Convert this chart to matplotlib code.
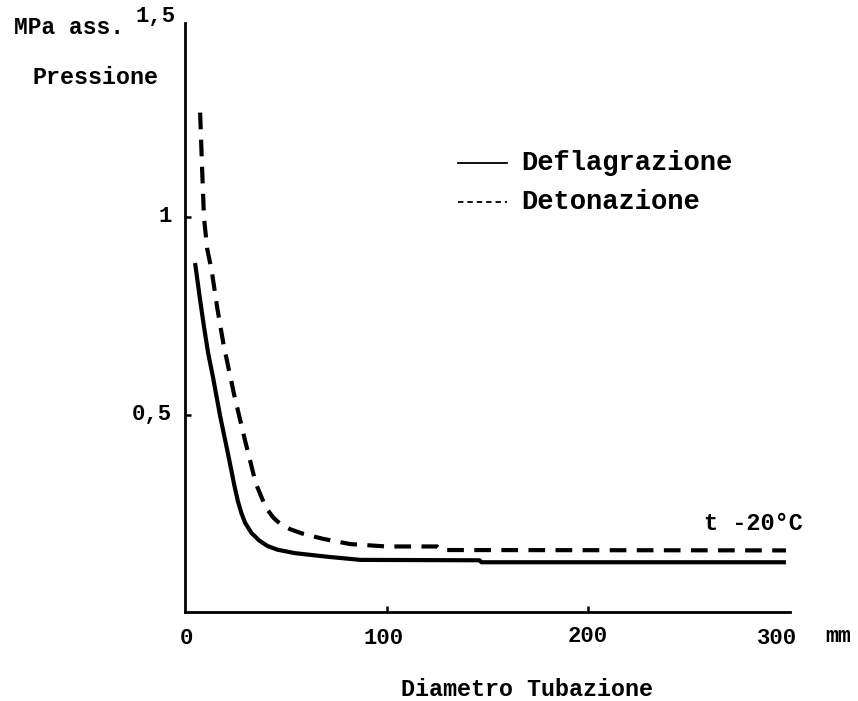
import numpy as np
import matplotlib
matplotlib.use("Agg")
import matplotlib.pyplot as plt

# Curves (diameter in mm, pressure in MPa abs.)
defl_x = [5.0, 7.5, 9.4, 11.5, 13.8, 17.4, 21.8, 24.5, 26.2, 28.0, 29.8, 33.0, 36.8, 41.0,
          45.7, 54.6, 70.5, 87, 146, 147, 298]
defl_y = [0.884, 0.79, 0.723, 0.655, 0.597, 0.497, 0.389, 0.32, 0.281, 0.25, 0.226, 0.2,
          0.181, 0.167, 0.158, 0.149, 0.140, 0.132, 0.131, 0.126, 0.126]

deto_x = [7.5, 8.5, 9.4, 11.0, 13.2, 16.0, 19.1, 24.3, 29.8, 35.1, 38.0, 40.4, 44.0, 47.5,
          52.0, 58, 68.7, 82, 100, 125, 127, 298]
deto_y = [1.265, 1.12, 1.0, 0.92, 0.866, 0.77, 0.678, 0.552, 0.434, 0.326, 0.29, 0.262,
          0.238, 0.222, 0.21, 0.199, 0.185, 0.172, 0.166, 0.166, 0.157, 0.156]

x_ticks = [100, 200]
y_ticks = [0.5, 1.0]
series_labels = ["Deflagrazione", "Detonazione"]

W, H = 858, 701
FONT = "Liberation Mono"


def fx(px):
    return px / W


def fy(py):
    return 1 - py / H


fig = plt.figure(figsize=(W / 100, H / 100), dpi=100)
ax = fig.add_axes([fx(185), fy(612), fx(790) - fx(185), fy(23) - fy(612)])

ax.plot(defl_x, defl_y, color="black", lw=3.0, solid_capstyle="butt", solid_joinstyle="round")
ax.plot(deto_x, deto_y, color="black", lw=3.0, dashes=(4, 2.5), dash_capstyle="butt")

ax.set_xlim(0, 300)
ax.set_ylim(0, 1.492)
for s in ["top", "right"]:
    ax.spines[s].set_visible(False)
for s in ["left", "bottom"]:
    ax.spines[s].set_linewidth(2.0)

ax.set_xticks(x_ticks)
ax.set_yticks(y_ticks)
ax.tick_params(direction="in", length=4, width=1.8, labelbottom=False, labelleft=False)

# tick labels, placed as in the original drawing
txt = dict(family=FONT, fontweight="bold", color="black")
fig.text(fx(186), fy(638), "0", ha="center", va="center", fontsize=16, **txt)
fig.text(fx(384), fy(638), "100", ha="center", va="center", fontsize=16, **txt)
fig.text(fx(588), fy(636), "200", ha="center", va="center", fontsize=16, **txt)
fig.text(fx(777), fy(638), "300", ha="center", va="center", fontsize=16, **txt)
fig.text(fx(838), fy(637), "mm", ha="center", va="center", fontsize=15.5, **txt)
fig.text(fx(172), fy(216), "1", ha="right", va="center", fontsize=16, **txt)
fig.text(fx(172), fy(414), "0,5", ha="right", va="center", fontsize=16, **txt)
fig.text(fx(156), fy(17), "1,5", ha="center", va="center", fontsize=16, **txt)

fig.text(fx(14), fy(28), "MPa ass.", ha="left", va="center", fontsize=16.5, **txt)
fig.text(fx(32), fy(78), "Pressione", ha="left", va="center", fontsize=16.8, **txt)
fig.text(fx(527), fy(689), "Diametro Tubazione", ha="center", va="center", fontsize=16.8, **txt)
fig.text(fx(753), fy(523), "t -20°C", ha="center", va="center", fontsize=17, **txt)

# hand-drawn legend
fig.add_artist(plt.Line2D([fx(458), fx(507)], [fy(163), fy(163)], color="black", lw=1.3))
fig.add_artist(plt.Line2D([fx(458), fx(507)], [fy(202), fy(202)], color="black", lw=1.3,
                          dashes=(3, 2.2)))
fig.text(fx(521), fy(163), series_labels[0], ha="left", va="center", fontsize=19.5, **txt)
fig.text(fx(521), fy(202), series_labels[1], ha="left", va="center", fontsize=19.5, **txt)

fig.savefig("out.png", dpi=100, facecolor="white")
